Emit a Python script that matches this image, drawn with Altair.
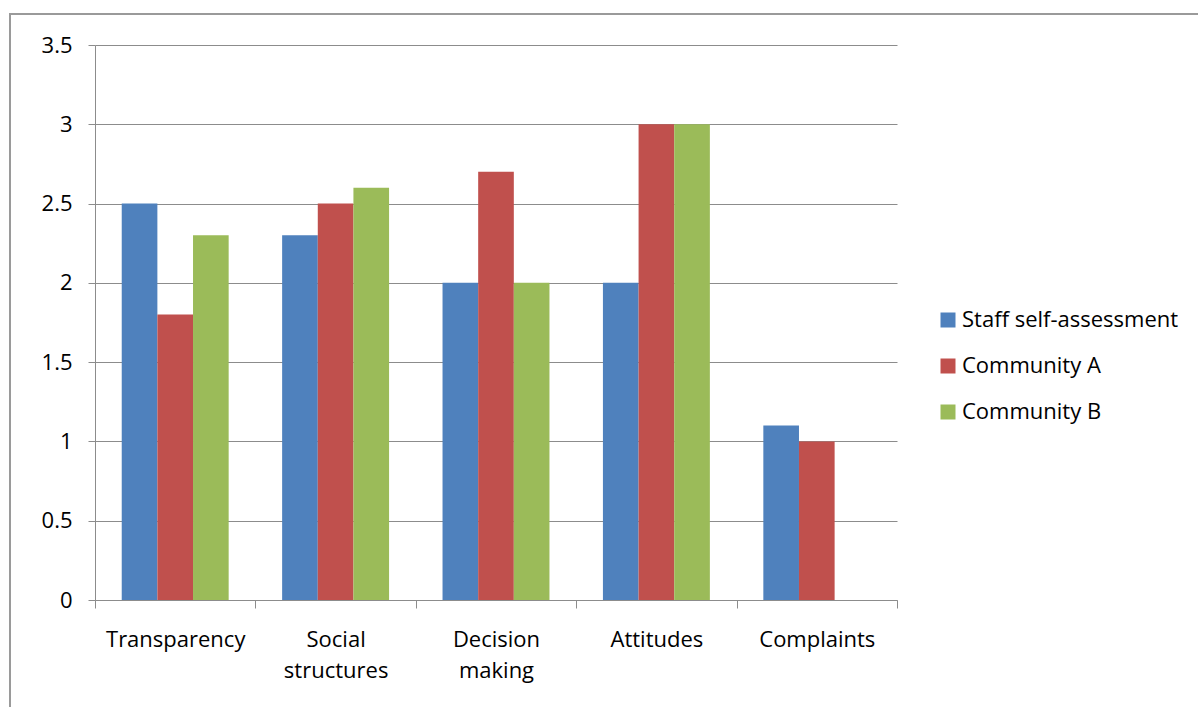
import altair as alt
import pandas as pd

categories = ["Transparency", "Social structures", "Decision making", "Attitudes", "Complaints"]
series = ["Staff self-assessment", "Community A", "Community B"]
staff = [2.5, 2.3, 2.0, 2.0, 1.1]
comm_a = [1.8, 2.5, 2.7, 3.0, 1.0]
comm_b = [2.3, 2.6, 2.0, 3.0, None]
colors = ["#4F81BD", "#C0504D", "#9BBB59"]

rows = []
for i, c in enumerate(categories):
    for s, vals in zip(series, [staff, comm_a, comm_b]):
        rows.append({"category": c, "series": s, "value": vals[i]})
df = pd.DataFrame(rows)

font = "Open Sans"
gray = "#8c8c8c"
fs = 22

bars = alt.Chart(df).mark_bar(stroke=None).encode(
    x=alt.X("category:N", sort=categories, title=None,
            scale=alt.Scale(paddingInner=0, paddingOuter=0),
            axis=alt.Axis(labelAngle=0, tickBand="extent", tickSize=8, tickColor=gray,
                          domainColor=gray, labelFontSize=fs, labelFont=font,
                          labelColor="#000000", labelPadding=21, labelLineHeight=31,
                          labelBaseline="top",
                          labelExpr="split(datum.label, ' ')")),
    xOffset=alt.XOffset("series:N", sort=series,
                        scale=alt.Scale(paddingInner=0, paddingOuter=0.75)),
    y=alt.Y("value:Q", title=None,
            scale=alt.Scale(domain=[0, 3.5], nice=False),
            axis=alt.Axis(values=[0, 0.5, 1, 1.5, 2, 2.5, 3, 3.5], format="~g",
                          tickSize=7, tickColor=gray, domainColor=gray, gridColor=gray,
                          labelFontSize=fs, labelFont=font, labelColor="#000000",
                          labelPadding=16)),
    color=alt.Color("series:N", sort=series,
                    scale=alt.Scale(domain=series, range=colors),
                    legend=alt.Legend(title=None, orient="none", legendX=842, legendY=264,
                                      symbolType="square", symbolSize=225,
                                      symbolStrokeWidth=0, labelFontSize=fs, labelFont=font,
                                      labelColor="#000000", rowPadding=24, labelOffset=3,
                                      labelLimit=400)),
)

frame = alt.Chart(pd.DataFrame({"a": [0]})).mark_rect(
    fill=None, stroke="#9a9a9a", strokeWidth=2
).encode(
    x=alt.value(-85), x2=alt.value(1198), y=alt.value(-31), y2=alt.value(700)
)

chart = alt.layer(frame, bars).properties(
    width=802, height=555,
    autosize=alt.AutoSizeParams(type="none"),
    padding={"left": 95, "top": 45, "right": 301, "bottom": 107},
    background="white",
).configure_view(strokeWidth=0)

chart.save("out.html", embed_options={"renderer": "svg", "actions": False})
